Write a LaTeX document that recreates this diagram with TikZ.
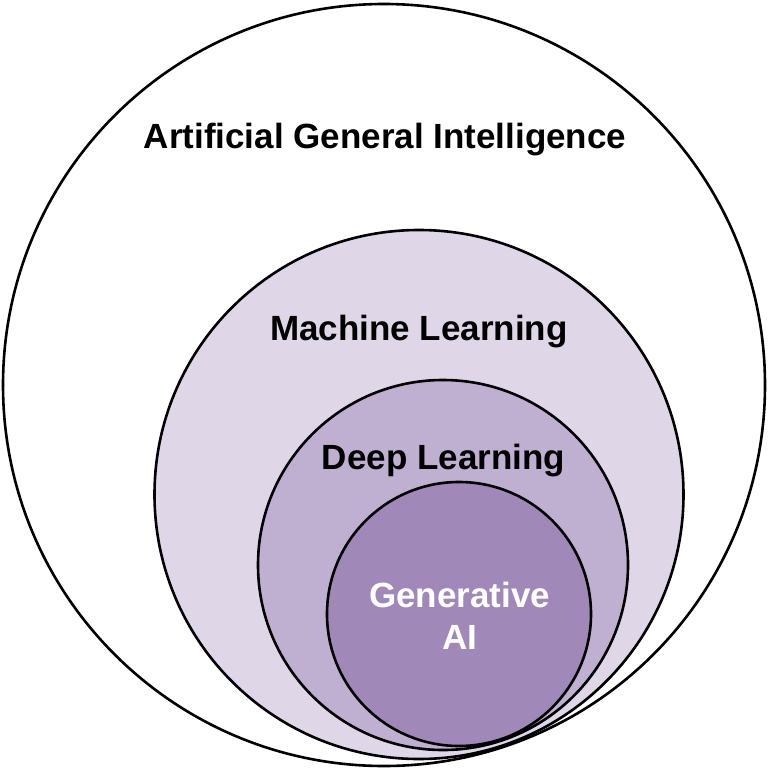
\documentclass[tikz,border=0pt]{standalone}
\usepackage{fontspec}
\setmainfont{Liberation Sans}
\definecolor{mlfill}{RGB}{223,214,232}
\definecolor{dlfill}{RGB}{191,176,210}
\definecolor{gafill}{RGB}{160,136,184}
\tikzset{
  ring/.style={draw=black, line width=2.6pt},
  lab/.style={font=\bfseries\fontsize{35}{42}\selectfont, anchor=base, inner sep=0pt},
}
\begin{document}
\begin{tikzpicture}[x=1pt,y=-1pt]
\useasboundingbox (0,0) rectangle (768,768);
\fill[white] (0,0) rectangle (768,768);
\draw[ring, fill=white] (384,385) circle (381);
\draw[ring, fill=mlfill] (419,494.5) circle (264.5);
\draw[ring, fill=dlfill] (443,565) circle (185);
\draw[ring, fill=gafill] (459,614) circle (132);
\node[lab] (agi) at (385,148) {Artificial General Intelligence};
\node[lab] (ml) at (419,340) {Machine Learning};
\node[lab] (dl) at (443.5,469) {Deep Learning};
\node[lab, text=white] (ga1) at (459.5,607) {Generative};
\node[lab, text=white] (ga2) at (459.5,649) {AI};
\end{tikzpicture}
\end{document}
